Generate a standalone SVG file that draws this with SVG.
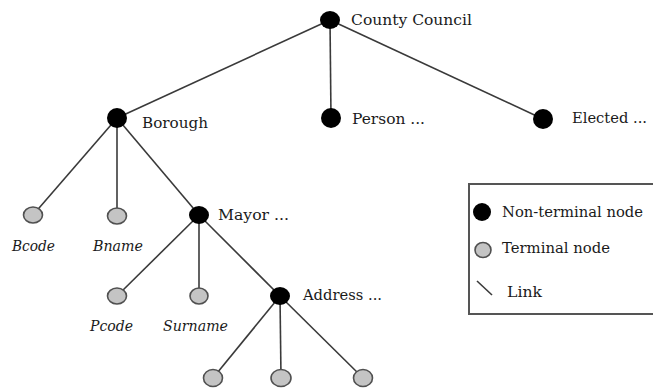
<svg xmlns="http://www.w3.org/2000/svg" width="653" height="389" viewBox="0 0 653 389">
<style>
.link{stroke:#3a3a3a;stroke-width:1.6;fill:none}
.nt{fill:#000}
.t{fill:#c4c4c4;stroke:#505050;stroke-width:1.6}
text{font-family:"DejaVu Serif","Liberation Serif",serif;font-size:15px;fill:#1a1a1a}
.it{font-style:italic;font-size:14px}
.lg{font-size:14px}
</style>
<rect width="653" height="389" fill="#fff"/>
<g id="connectors">
<line class="link" x1="330" y1="20" x2="117" y2="118"/>
<line class="link" x1="330" y1="20" x2="331" y2="118"/>
<line class="link" x1="330" y1="20" x2="543" y2="119"/>
<line class="link" x1="117" y1="118" x2="33" y2="215"/>
<line class="link" x1="117" y1="118" x2="117" y2="215"/>
<line class="link" x1="117" y1="118" x2="199" y2="215"/>
<line class="link" x1="199" y1="215" x2="117" y2="296"/>
<line class="link" x1="199" y1="215" x2="199" y2="296"/>
<line class="link" x1="199" y1="215" x2="280" y2="296"/>
<line class="link" x1="280" y1="296" x2="213" y2="378"/>
<line class="link" x1="280" y1="296" x2="281" y2="378"/>
<line class="link" x1="280" y1="296" x2="363" y2="378"/>
</g>
<g id="county-council"><ellipse class="nt" cx="330" cy="20" rx="10" ry="9"/><text x="351" y="25" textLength="121" lengthAdjust="spacingAndGlyphs">County Council</text></g>
<g id="borough"><ellipse class="nt" cx="117" cy="118" rx="10" ry="10"/><text x="142" y="128" textLength="66" lengthAdjust="spacingAndGlyphs">Borough</text></g>
<g id="person"><ellipse class="nt" cx="331" cy="118" rx="10" ry="10"/><text x="352" y="124" textLength="73" lengthAdjust="spacingAndGlyphs">Person ...</text></g>
<g id="elected"><ellipse class="nt" cx="543" cy="119" rx="10" ry="10"/><text x="572" y="123" textLength="75" lengthAdjust="spacingAndGlyphs">Elected ...</text></g>
<g id="bcode"><ellipse class="t" cx="33" cy="215" rx="9.5" ry="8"/><text class="it" x="12" y="251" textLength="43" lengthAdjust="spacingAndGlyphs">Bcode</text></g>
<g id="bname"><ellipse class="t" cx="117" cy="216" rx="9.5" ry="8"/><text class="it" x="93" y="251" textLength="50" lengthAdjust="spacingAndGlyphs">Bname</text></g>
<g id="mayor"><ellipse class="nt" cx="199" cy="215" rx="10" ry="9"/><text x="218" y="220" textLength="71" lengthAdjust="spacingAndGlyphs">Mayor ...</text></g>
<g id="pcode"><ellipse class="t" cx="117" cy="296" rx="9.5" ry="8"/><text class="it" x="90" y="331" textLength="43" lengthAdjust="spacingAndGlyphs">Pcode</text></g>
<g id="surname"><ellipse class="t" cx="199" cy="296" rx="9" ry="8"/><text class="it" x="163" y="331" textLength="65" lengthAdjust="spacingAndGlyphs">Surname</text></g>
<g id="address"><ellipse class="nt" cx="280" cy="296" rx="10" ry="9"/><text x="303" y="300" textLength="79" lengthAdjust="spacingAndGlyphs">Address ...</text></g>
<g id="leaf1"><ellipse class="t" cx="213" cy="378" rx="9.5" ry="8.5"/></g>
<g id="leaf2"><ellipse class="t" cx="281" cy="378" rx="10" ry="8.5"/></g>
<g id="leaf3"><ellipse class="t" cx="363" cy="378" rx="9.5" ry="8.5"/></g>
<g id="legend">
<rect x="469" y="184" width="200" height="130" fill="none" stroke="#555" stroke-width="2"/>
<ellipse class="nt" cx="482" cy="212" rx="9" ry="9"/>
<text class="lg" x="502" y="217" textLength="141" lengthAdjust="spacingAndGlyphs">Non-terminal node</text>
<ellipse class="t" cx="483" cy="250" rx="8" ry="7.5"/>
<text class="lg" x="502" y="253" textLength="108" lengthAdjust="spacingAndGlyphs">Terminal node</text>
<line class="link" x1="477" y1="281" x2="492" y2="295"/>
<text class="lg" x="507" y="297" textLength="35" lengthAdjust="spacingAndGlyphs">Link</text>
</g>
</svg>
